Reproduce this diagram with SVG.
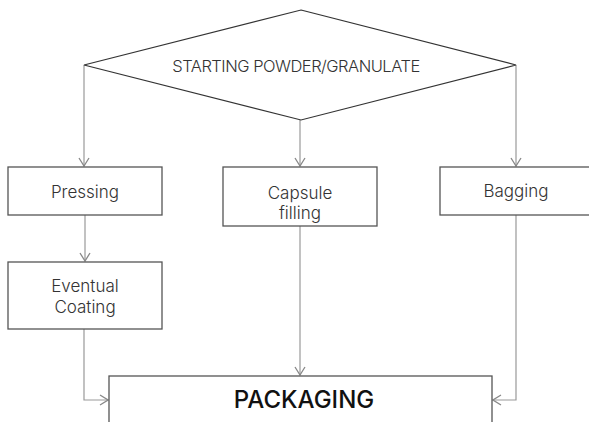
<svg xmlns="http://www.w3.org/2000/svg" width="589" height="422" viewBox="0 0 589 422">
<defs>
<style>
.box{fill:#fff;stroke:#555;stroke-width:1.3}
.lbl{font-family:Inter,"Liberation Sans",sans-serif;font-weight:300;font-size:17px;fill:#333;text-anchor:middle}
.con{fill:none;stroke:#999;stroke-width:1.2}
</style>
<marker id="ah" viewBox="0 0 10 12" refX="9" refY="6" markerWidth="10" markerHeight="12" markerUnits="userSpaceOnUse" orient="auto">
<path d="M1,1 L9,6 L1,11" fill="none" stroke="#888" stroke-width="1.3"/>
</marker>
</defs>
<rect width="589" height="422" fill="#fff"/>
<g id="connectors">
<path class="con" d="M84,65 V166" marker-end="url(#ah)"/>
<path class="con" d="M300,120 V166" marker-end="url(#ah)"/>
<path class="con" d="M516,65 V166" marker-end="url(#ah)"/>
<path class="con" d="M85,215 V261" marker-end="url(#ah)"/>
<path class="con" d="M84,329 V400 H108" marker-end="url(#ah)"/>
<path class="con" d="M300,226 V375" marker-end="url(#ah)"/>
<path class="con" d="M516,215 V400 H493" marker-end="url(#ah)"/>
</g>
<g id="start">
<polygon points="301,10 516,65 301,120 84,65" fill="#fff" stroke="#333" stroke-width="1.2"/>
<text class="lbl" x="296" y="72" style="font-size:16.5px;letter-spacing:-0.5px">STARTING POWDER/GRANULATE</text>
</g>
<g id="pressing">
<rect class="box" x="8" y="167" width="154" height="48"/>
<text class="lbl" x="85" y="198">Pressing</text>
</g>
<g id="coating">
<rect class="box" x="8" y="262" width="154" height="67"/>
<text class="lbl" x="85" y="292">Eventual</text>
<text class="lbl" x="85" y="313">Coating</text>
</g>
<g id="capsule">
<rect class="box" x="223" y="167" width="154" height="59"/>
<text class="lbl" x="300" y="199">Capsule</text>
<text class="lbl" x="300" y="219">filling</text>
</g>
<g id="bagging">
<rect class="box" x="440" y="167" width="154" height="48"/>
<text class="lbl" x="516" y="197">Bagging</text>
</g>
<g id="packaging">
<rect class="box" x="109" y="376" width="383" height="60"/>
<text class="lbl" x="304" y="408" style="font-size:24px;font-weight:500;fill:#111">PACKAGING</text>
</g>
</svg>
